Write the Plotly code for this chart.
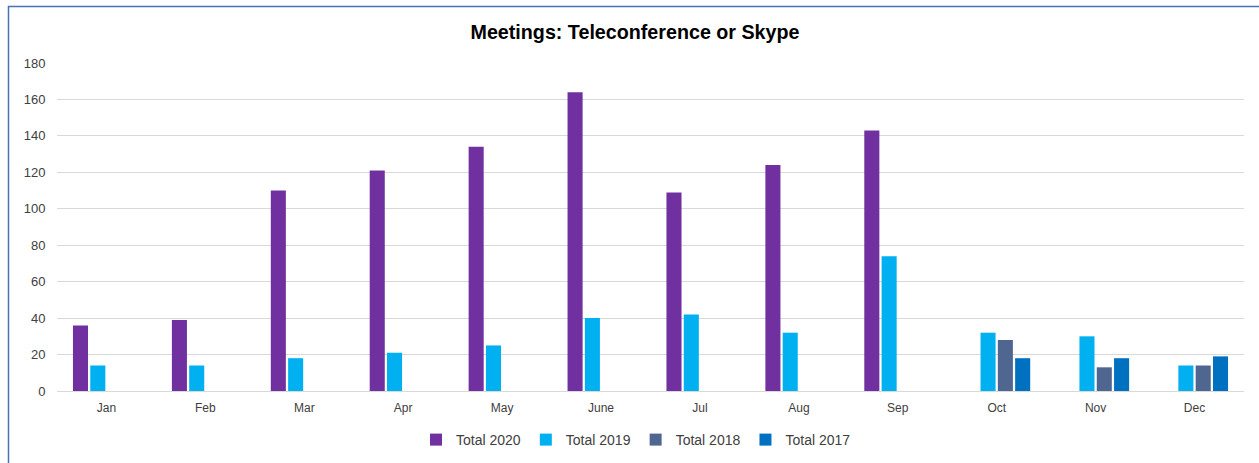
import plotly.graph_objects as go

months = ["Jan", "Feb", "Mar", "Apr", "May", "June", "Jul", "Aug", "Sep", "Oct", "Nov", "Dec"]
total_2020 = [36, 39, 110, 121, 134, 164, 109, 124, 143, None, None, None]
total_2019 = [14, 14, 18, 21, 25, 40, 42, 32, 74, 32, 30, 14]
total_2018 = [None, None, None, None, None, None, None, None, None, 28, 13, 14]
total_2017 = [None, None, None, None, None, None, None, None, None, 18, 18, 19]

series = [
    ("Total 2020", total_2020, "#7030A0"),
    ("Total 2019", total_2019, "#00B0F0"),
    ("Total 2018", total_2018, "#4F6690"),
    ("Total 2017", total_2017, "#0070C0"),
]

fig = go.Figure()
for name, vals, color in series:
    fig.add_trace(go.Bar(x=months, y=vals, name=name, marker_color=color,
                         marker_line_width=0))

W, H = 1259, 463
L, R, T, B = 57, 15, 63, 72
pw, ph = W - L - R, H - T - B

def px(x):
    return (x - L) / pw

def py(y):
    return (H - B - y) / ph

fig.update_layout(
    width=W, height=H,
    margin=dict(l=L, r=R, t=T, b=B, autoexpand=False),
    paper_bgcolor="white", plot_bgcolor="white",
    barmode="group", bargap=0.3, bargroupgap=0.13,
    font=dict(family="Liberation Sans, Arial, sans-serif", color="#404040", size=12),
    title=dict(text="<b>Meetings: Teleconference or Skype</b>", x=px(635), xref="paper",
               xanchor="center", y=1 - 32 / H, yanchor="middle",
               font=dict(size=19.7, color="#000000",
                         family="Liberation Sans, Arial, sans-serif")),
    legend=dict(orientation="h", x=px(636), xanchor="center", y=py(440), yanchor="middle",
                font=dict(size=14, color="#404040"), itemwidth=30, traceorder="normal"),
    showlegend=True,
    xaxis=dict(showgrid=False, showline=True, linecolor="#D9D9D9", linewidth=1,
               ticks="outside", ticklen=6, tickcolor="rgba(0,0,0,0)",
               tickfont=dict(size=12, color="#404040")),
    yaxis=dict(range=[0, 180], dtick=20, showgrid=True, gridcolor="#D9D9D9", gridwidth=1,
               zeroline=False, showline=False, ticks="outside", ticklen=8,
               tickcolor="rgba(0,0,0,0)", tickfont=dict(size=13, color="#404040")),
    shapes=[dict(type="rect", xref="paper", yref="paper",
                 x0=px(8.5), x1=px(1265), y0=py(470), y1=py(6.5),
                 line=dict(color="#4A72B0", width=1.5), fillcolor="rgba(0,0,0,0)",
                 layer="below")],
)

fig.write_html("out.html", config={"displayModeBar": False},
               post_script="document.body.style.margin='0';document.body.style.overflow='hidden';")
